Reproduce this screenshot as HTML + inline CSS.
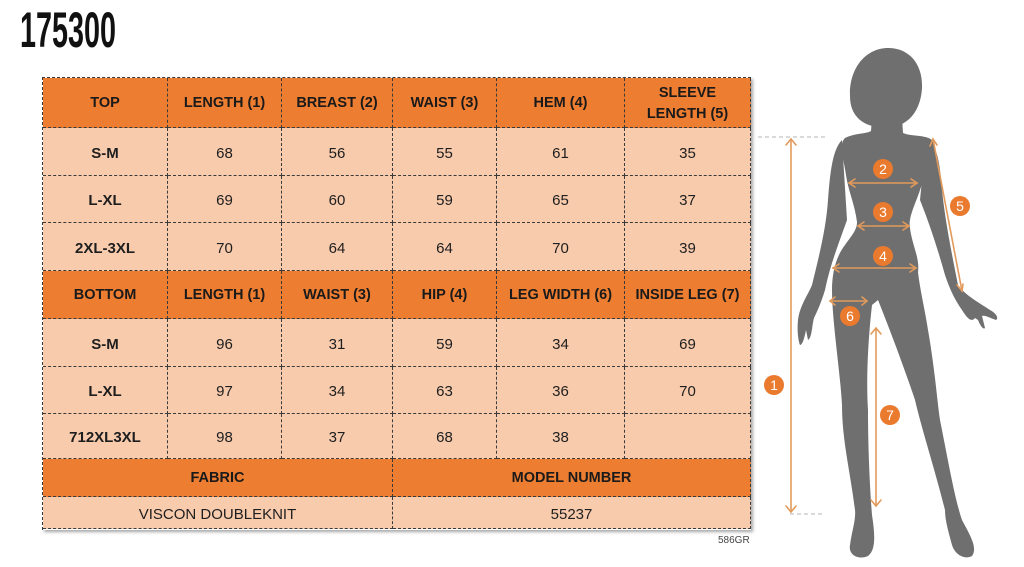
<!DOCTYPE html>
<html><head><meta charset="utf-8"><style>
html,body{margin:0;padding:0;background:#fff;}
body{width:1024px;height:567px;position:relative;overflow:hidden;font-family:"Liberation Sans",sans-serif;}
.title{position:absolute;left:20px;top:5px;font-size:50px;line-height:50px;font-weight:bold;color:#111;transform:scaleX(0.575);transform-origin:0 0;letter-spacing:0;}
.grid{position:absolute;left:42px;top:77px;width:709px;height:453px;box-sizing:border-box;border-left:1px dashed #3a3a3a;border-top:1px dashed #3a3a3a;display:grid;
grid-template-columns:125px 114px 111px 104px 128px 126px;
grid-template-rows:50px 48px 47px 48px 48px 48px 47px 45px 38px 32px;
box-shadow:2px 2px 3px rgba(0,0,0,0.35);}
.c{box-sizing:border-box;border-right:1px dashed #3a3a3a;border-bottom:1px dashed #3a3a3a;display:flex;align-items:center;justify-content:center;text-align:center;font-size:15px;color:#1e1e1e;background:#F8CBAD;padding-top:3px;}
.h{background:#ED7D31;font-weight:bold;font-size:14.5px;line-height:21px;color:#1a1a1a;padding-top:2px;}
.b{font-weight:bold;}
.s3{grid-column:span 3;}
.note{position:absolute;left:718px;top:535px;font-size:10px;color:#444;}
svg{position:absolute;left:0;top:0;}
</style></head><body>
<div class="title">175300</div>
<div class="grid">
<div class="c h">TOP</div><div class="c h">LENGTH (1)</div><div class="c h">BREAST (2)</div><div class="c h">WAIST (3)</div><div class="c h">HEM (4)</div><div class="c h">SLEEVE<br>LENGTH (5)</div>
<div class="c b">S-M</div><div class="c">68</div><div class="c">56</div><div class="c">55</div><div class="c">61</div><div class="c">35</div>
<div class="c b">L-XL</div><div class="c">69</div><div class="c">60</div><div class="c">59</div><div class="c">65</div><div class="c">37</div>
<div class="c b">2XL-3XL</div><div class="c">70</div><div class="c">64</div><div class="c">64</div><div class="c">70</div><div class="c">39</div>
<div class="c h">BOTTOM</div><div class="c h">LENGTH (1)</div><div class="c h">WAIST (3)</div><div class="c h">HIP (4)</div><div class="c h">LEG WIDTH (6)</div><div class="c h">INSIDE LEG (7)</div>
<div class="c b">S-M</div><div class="c">96</div><div class="c">31</div><div class="c">59</div><div class="c">34</div><div class="c">69</div>
<div class="c b">L-XL</div><div class="c">97</div><div class="c">34</div><div class="c">63</div><div class="c">36</div><div class="c">70</div>
<div class="c b">712XL3XL</div><div class="c">98</div><div class="c">37</div><div class="c">68</div><div class="c">38</div><div class="c"></div>
<div class="c h s3">FABRIC</div><div class="c h s3">MODEL NUMBER</div>
<div class="c s3">VISCON DOUBLEKNIT</div><div class="c s3">55237</div>
</div>
<div class="note">586GR</div>
<svg width="1024" height="567" viewBox="0 0 1024 567">
<g fill="#6f6f6f">
<path d="M872,126 C858,122 850,112 850,96 C849,68 866,48 888,48 C910,48 923,65 922,88 C921,105 914,118 902,124 Z"/>
<path d="M872,118 L902,118 L903,133 C912,137 928,134 934,142 C938,155 925,175 920,190 C915,205 908,218 910,228 C912,245 920,258 918,272 C920,290 925,310 928,330 C935,370 937,400 940,420 C948,460 955,500 962,520 C970,535 978,548 972,556 C965,560 955,555 952,545 C948,530 945,520 945,510 C935,470 922,430 915,400 C905,370 890,330 878,300 L872,305 C868,340 866,380 868,410 C868,450 870,490 872,515 C875,535 876,550 868,556 C860,560 848,556 850,545 C852,530 856,520 855,510 C850,470 842,440 842,405 C840,370 832,320 832,290 C832,275 835,258 845,245 C852,235 857,230 857,222 C855,205 848,190 846,175 C844,160 838,145 845,138 C855,133 866,134 871,131 Z"/>
<path d="M842,140 C832,150 830,175 828,200 C826,230 818,260 812,285 C808,295 800,305 798,320 C797,330 798,340 800,345 C803,345 805,335 806,330 L808,340 C812,338 812,325 814,318 C818,310 822,300 825,290 C830,265 840,240 847,220 Z"/>
<path d="M926,138 C938,145 940,165 942,190 C945,220 952,255 958,285 C965,295 978,302 990,310 C996,313 999,318 996,320 C990,318 985,315 982,316 L985,328 C983,330 980,325 978,320 L975,318 C972,322 968,320 962,310 C955,300 950,290 945,275 C938,250 930,225 920,200 Z"/>
</g>
<g stroke="#b5b5b5" stroke-width="1" stroke-dasharray="4,3">
<line x1="758" y1="137" x2="826" y2="137"/>
<line x1="790" y1="514" x2="825" y2="514"/>
</g>
<g stroke="#E29A5C" stroke-width="1.6" fill="none" stroke-linecap="round">
<line x1="791" y1="139" x2="791" y2="512"/>
<polyline points="786,145 791,139 796,145"/><polyline points="786,506 791,512 796,506"/>
<line x1="849" y1="183" x2="917" y2="183"/>
<polyline points="855,179 849,183 855,187"/><polyline points="911,179 917,183 911,187"/>
<line x1="858" y1="226" x2="909" y2="226"/>
<polyline points="864,222 858,226 864,230"/><polyline points="903,222 909,226 903,230"/>
<line x1="833" y1="268" x2="916" y2="268"/>
<polyline points="839,264 833,268 839,272"/><polyline points="910,264 916,268 910,272"/>
<line x1="933" y1="139" x2="962" y2="291"/>
<polyline points="930,146 933,139 937,145"/><polyline points="957,285 962,291 963,284"/>
<line x1="830" y1="301" x2="867" y2="301"/>
<polyline points="835,297 830,301 835,305"/><polyline points="862,297 867,301 862,305"/>
<line x1="876" y1="328" x2="876" y2="506"/>
<polyline points="871,334 876,328 881,334"/><polyline points="871,500 876,506 881,500"/>
</g>
<g fill="#EA7A2E">
<circle cx="774" cy="385" r="10"/><circle cx="883" cy="169" r="10"/><circle cx="883" cy="212" r="10"/>
<circle cx="883" cy="256" r="10"/><circle cx="960" cy="206" r="10"/><circle cx="850" cy="316" r="10"/>
<circle cx="890" cy="415" r="10"/>
</g>
<g fill="#fff" font-family="Liberation Sans, sans-serif" font-size="14" text-anchor="middle">
<text x="774" y="390">1</text><text x="883" y="174">2</text><text x="883" y="217">3</text>
<text x="883" y="261">4</text><text x="960" y="211">5</text><text x="850" y="321">6</text><text x="890" y="420">7</text>
</g>
</svg>
</body></html>
